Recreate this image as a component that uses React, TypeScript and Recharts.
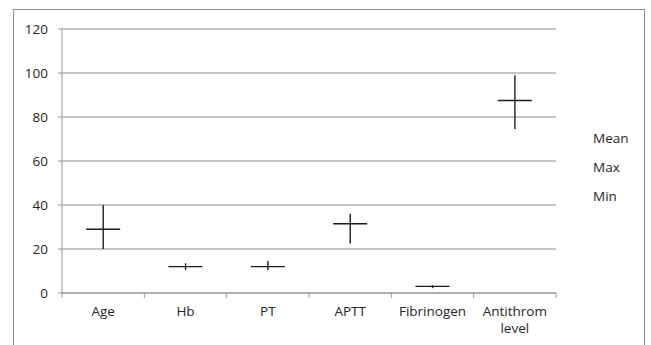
import { ComposedChart, Bar, Scatter, XAxis, YAxis, CartesianGrid, Legend, Text } from 'recharts';

const categories = ['Age', 'Hb', 'PT', 'APTT', 'Fibrinogen', 'Antithrom level'];
const meanValues = [29, 12, 12, 31.5, 3, 87.5];
const maxValues = [40, 13.5, 14.5, 36, 3.5, 99];
const minValues = [20, 10.5, 10.5, 22.5, 2.2, 74.5];
const yTicks = [0, 20, 40, 60, 80, 100, 120];
const legendLabels = ['Mean', 'Max', 'Min'];

const data = categories.map((name, i) => ({
  name,
  mean: meanValues[i],
  range: [minValues[i], maxValues[i]],
}));

const FONT = '"Open Sans", sans-serif';
const INK = '#1a1a1a';
const TEXT = '#262626';

// vertical min-max stroke
const RangeLine = (props: any) => {
  const { x, y, width, height } = props;
  const cx = x + width / 2;
  return <line x1={cx} x2={cx} y1={y} y2={y + height} stroke={INK} strokeWidth={1.4} />;
};

// horizontal mean dash
const MeanDash = (props: any) => {
  const { cx, cy } = props;
  return <line x1={cx - 17} x2={cx + 17} y1={cy} y2={cy} stroke={INK} strokeWidth={1.4} />;
};

const CategoryTick = (props: any) => {
  const { x, y, payload, index } = props;
  const half = payload.offset || 0;
  const last = index === categories.length - 1;
  return (
    <g>
      <line x1={x - half} x2={x - half} y1={y - 8} y2={y - 3} stroke="#999" />
      {last && <line x1={x + half} x2={x + half} y1={y - 8} y2={y - 3} stroke="#999" />}
      <Text
        x={x}
        y={y + 5}
        width={72}
        textAnchor="middle"
        verticalAnchor="start"
        fontSize={13.5}
        fontFamily={FONT}
        fill={TEXT}
        lineHeight={17}
      >
        {payload.value}
      </Text>
    </g>
  );
};

const LegendLabels = () => (
  <div style={{ fontFamily: FONT, fontSize: 13.5, color: TEXT, lineHeight: '29px' }}>
    {legendLabels.map(l => (
      <div key={l}>{l}</div>
    ))}
  </div>
);

export default function App() {
  return (
    <div style={{ position: 'absolute', left: 0, top: 0, width: 651, height: 345, overflow: 'hidden', background: '#fff' }}>
      <div
        style={{
          position: 'absolute',
          left: 13,
          top: 9,
          width: 630,
          height: 360,
          border: '1px solid #8c8c8c',
        }}
      />
      <ComposedChart
        width={651}
        height={345}
        data={data}
        margin={{ top: 29, right: 95, bottom: 12, left: 14 }}
        style={{ position: 'absolute', left: 0, top: 0 }}
      >
        <CartesianGrid vertical={false} stroke="#8c8c8c" />
        <XAxis
          dataKey="name"
          height={40}
          axisLine={{ stroke: '#999' }}
          tickLine={false}
          interval={0}
          tick={<CategoryTick />}
        />
        <YAxis
          width={48}
          domain={[0, 120]}
          ticks={yTicks}
          axisLine={{ stroke: '#999' }}
          tickLine={{ stroke: '#999' }}
          tickSize={4}
          tick={{ fontSize: 13.5, fontFamily: FONT, fill: TEXT, dx: -8 }}
        />
        <Bar dataKey="range" shape={<RangeLine />} isAnimationActive={false} legendType="none" />
        <Scatter dataKey="mean" shape={<MeanDash />} isAnimationActive={false} legendType="none" />
        <Legend
          layout="vertical"
          align="center"
          verticalAlign="middle"
          content={<LegendLabels />}
          wrapperStyle={{ left: 593, top: 124, width: 60 }}
        />
      </ComposedChart>
    </div>
  );
}
